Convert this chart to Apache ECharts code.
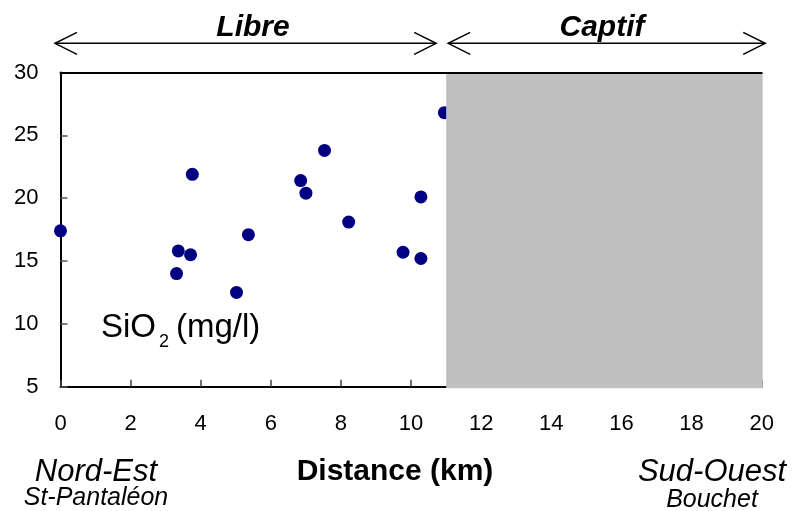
<!DOCTYPE html>
<html>
<head>
<meta charset="utf-8">
<script src="https://cdn.jsdelivr.net/npm/echarts@6/dist/echarts.min.js"></script>
<style>html,body{margin:0;padding:0;background:#fff}#c{width:793px;height:511px}</style>
</head>
<body>
<div id="c"></div>
<script>
// Data: distance (km) and SiO2 (mg/l)
const distance = [0, 3.36, 3.71, 3.31, 3.76, 5.02, 5.36, 6.85, 7.0, 7.53, 8.22, 9.77, 10.28, 10.28, 10.95];
const sio2     = [17.4, 15.8, 15.5, 14.0, 21.9, 12.5, 17.1, 21.4, 20.4, 23.8, 18.1, 15.7, 20.1, 15.2, 26.8];
const xTicks = { min: 0, max: 20, interval: 2 };
const yTicks = { min: 5, max: 30, interval: 5 };
const zoneLibre = [0, 11];
const zoneCaptif = [11, 20];
const zoneLabels = ['Libre', 'Captif'];

const font = 'Liberation Sans, Arial, sans-serif';
const chart = echarts.init(document.getElementById('c'));

const points = distance.map((d, i) => [d, sio2[i]]);

chart.setOption({
  animation: false,
  backgroundColor: '#fff',
  grid: { left: 60.5, right: 31.3, top: 72.5, bottom: 124.3 },
  xAxis: [{
    type: 'value', min: xTicks.min, max: xTicks.max, interval: xTicks.interval,
    splitLine: { show: false },
    axisLine: { show: true, onZero: false, lineStyle: { color: '#000', width: 2 } },
    axisTick: { show: true, inside: true, length: 7, lineStyle: { color: '#444', width: 1.5 } },
    axisLabel: { color: '#000', fontSize: 22, fontFamily: font, margin: 26 }
  }, {
    type: 'value', position: 'top', min: xTicks.min, max: xTicks.max, z: 10,
    splitLine: { show: false },
    axisLine: { show: true, onZero: false, lineStyle: { color: '#000', width: 2 } },
    axisTick: { show: false }, axisLabel: { show: false }
  }],
  yAxis: {
    type: 'value', min: yTicks.min, max: yTicks.max, interval: yTicks.interval,
    splitLine: { show: false },
    axisLine: { show: true, onZero: false, lineStyle: { color: '#000', width: 2 } },
    axisTick: { show: true, inside: true, length: 7, lineStyle: { color: '#555', width: 1.5 } },
    axisLabel: { color: '#000', fontSize: 22, fontFamily: font, margin: 22 }
  },
  series: [{
    type: 'scatter', z: 2,
    data: points,
    symbolSize: 13,
    itemStyle: { color: '#000080', opacity: 1 }
  }, {
    type: 'custom', z: 5, silent: true,
    data: [[zoneCaptif[0], zoneCaptif[1]]],
    renderItem: function (params, api) {
      const p0 = api.coord([api.value(0), yTicks.max]);
      const p1 = api.coord([api.value(1), yTicks.min]);
      return { type: 'rect', shape: { x: p0[0], y: p0[1], width: p1[0] - p0[0] + 1, height: p1[1] - p0[1] + 1.5 },
        style: { fill: '#C0C0C0' } };
    }
  }]
});

// annotations
function px(x, y) { return chart.convertToPixel({ xAxisIndex: 0, yAxisIndex: 0 }, [x, y]); }
const arrowY = 43.3;
function arrow(x1, x2) {
  const h = 22, w = 11;
  return [
    { type: 'line', shape: { x1: x1, y1: arrowY, x2: x2, y2: arrowY }, style: { stroke: '#000', lineWidth: 1.5 } },
    { type: 'polyline', shape: { points: [[x1 + h, arrowY - w], [x1, arrowY], [x1 + h, arrowY + w]] }, style: { stroke: '#000', lineWidth: 1.5, fill: null } },
    { type: 'polyline', shape: { points: [[x2 - h, arrowY - w], [x2, arrowY], [x2 - h, arrowY + w]] }, style: { stroke: '#000', lineWidth: 1.5, fill: null } }
  ];
}
const l0 = px(zoneLibre[0], 30)[0] - 5.5, l1 = px(zoneLibre[1], 30)[0] - 10;
const c0 = px(zoneCaptif[0], 30)[0] + 2, c1 = px(zoneCaptif[1], 30)[0] + 3.5;
const txt = (text, x, y, size, weight, style, align) => ({
  type: 'text', x: x, y: y, z: 20,
  style: { text: text, fontSize: size, fontWeight: weight || 'normal', fontStyle: style || 'normal',
    fontFamily: font, fill: '#000', align: align || 'center', verticalAlign: 'middle' }
});
chart.setOption({
  graphic: [
    ...arrow(l0, l1), ...arrow(c0, c1),
    txt(zoneLabels[0], 253, 28, 30, 'bold', 'italic'),
    txt(zoneLabels[1], 602, 28, 30, 'bold', 'italic'),
    txt('Distance (km)', 395, 472, 30, 'bold'),
    txt('Nord-Est', 96, 472, 31, 'normal', 'italic'),
    txt('St-Pantaléon', 96, 498, 25, 'normal', 'italic'),
    txt('Sud-Ouest', 712, 472, 31, 'normal', 'italic'),
    txt('Bouchet', 712, 500, 25, 'normal', 'italic'),
    txt('SiO', 101, 328, 33, 'normal', 'normal', 'left'),
    txt('2', 159, 342, 18, 'normal', 'normal', 'left'),
    txt('(mg/l)', 176, 328, 33, 'normal', 'normal', 'left')
  ]
});
</script>
</body>
</html>
